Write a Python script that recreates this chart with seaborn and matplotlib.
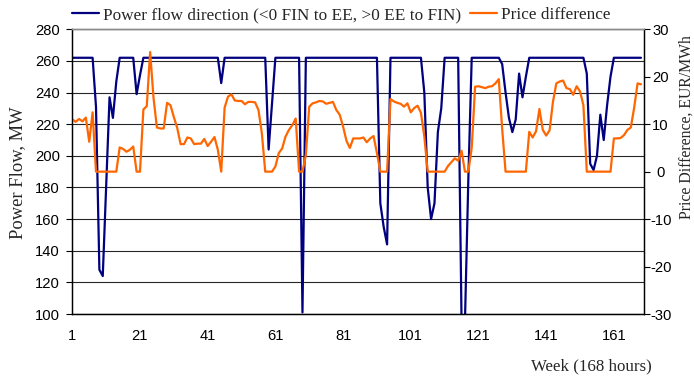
import matplotlib
matplotlib.use("Agg")
import matplotlib.pyplot as plt
import seaborn as sns
import pandas as pd

# ---------------- data ----------------
hours = list(range(1, 170))

power_flow = [
    262, 262, 262, 262, 262, 262, 262,
    231, 128, 124, 180, 237, 224, 247,
    262, 262, 262, 262, 262,
    239, 251,
    262, 262, 262, 262, 262, 262, 262, 262, 262, 262, 262, 262,
    262, 262, 262, 262, 262, 262, 262, 262, 262, 262, 262,
    246,
    262, 262, 262, 262, 262, 262, 262, 262, 262, 262, 262, 262, 262,
    204, 233,
    262, 262, 262, 262, 262, 262, 262, 262,
    101,
    262, 262, 262, 262, 262, 262, 262, 262, 262, 262, 262,
    262, 262, 262, 262, 262, 262, 262, 262, 262, 262, 262,
    170, 155, 144,
    262, 262, 262, 262, 262, 262, 262, 262, 262, 262,
    240, 180, 160, 170, 215, 230,
    262, 262, 262, 262, 262,
    95, 95, 185,
    262, 262, 262, 262, 262, 262, 262, 262, 262,
    258, 240, 224, 215, 223, 252, 237, 250,
    262, 262, 262, 262, 262, 262, 262, 262, 262,
    262, 262, 262, 262, 262, 262, 262, 262,
    252, 195, 191, 200, 226, 210, 232, 250,
    262, 262, 262, 262, 262, 262, 262, 262, 262,
]

price_diff = [
    11.0, 10.5, 11.1, 10.6, 11.4, 6.3, 12.5, 0,
    0, 0, 0, 0, 0, 0,
    5.1, 4.8, 4.2, 4.6, 5.3,
    0, 0,
    13.1, 13.8, 25.2, 15.5, 9.3, 9.1, 9.1, 14.5, 14.0, 11.5,
    9.2, 5.8, 5.8, 7.2, 7.0, 5.8, 5.9, 5.9, 6.9, 5.4, 6.3, 7.3, 4.6,
    0,
    13.5, 15.8, 16.3, 15.0, 14.9, 14.9, 14.2, 14.7, 14.7, 14.6, 13.0, 8.1,
    0, 0, 0,
    1.1, 3.9, 4.9, 7.4, 8.8, 9.8, 11.2,
    0, 0,
    3.5, 13.7, 14.4, 14.6, 14.9, 14.8, 14.3, 14.5, 14.7, 13.0, 12.0,
    9.5, 6.5, 5.0, 7.0, 7.0, 7.0, 7.2, 6.2, 7.0, 7.5, 3.9,
    0, 0, 0,
    15.3, 14.8, 14.5, 14.3, 13.7, 14.4, 12.5, 13.4, 13.9, 12.4, 7.4,
    0, 0, 0, 0, 0, 0,
    1.2, 2.0, 2.8, 2.3, 4.4,
    0, 0,
    5.0, 17.9, 18.0, 17.8, 17.6, 17.9, 18.0, 18.6, 19.5, 9.0,
    0, 0, 0, 0, 0, 0, 0,
    8.4, 7.2, 8.5, 13.2, 8.8, 7.6, 8.7, 14.7, 18.6, 19.0, 19.2, 17.6,
    17.4, 16.2, 18.0, 16.9, 14.0,
    0, 0, 0, 0, 0, 0, 0, 0,
    7.0, 7.0, 7.1, 7.7, 8.8, 9.3, 13.5, 18.6, 18.4,
]

x_ticks = [1, 21, 41, 61, 81, 101, 121, 141, 161]
flow_ticks = [100, 120, 140, 160, 180, 200, 220, 240, 260, 280]
price_ticks = [-30, -20, -10, 0, 10, 20, 30]

flow_label = "Power flow direction (<0 FIN to EE, >0 EE to FIN)"
price_label = "Price difference"

# ---------------- style ----------------
sns.set_style("white")
plt.rcParams["font.family"] = ["Liberation Sans", "DejaVu Sans"]
SERIF = ["Liberation Serif", "DejaVu Serif"]

df = pd.DataFrame({"hour": hours, "flow": power_flow, "price": price_diff})

fig = plt.figure(figsize=(6.94, 3.79), dpi=100)
ax = fig.add_axes([72.3 / 694, 1 - 314 / 379, (644 - 72.3) / 694, (314 - 29.3) / 379])
ax2 = ax.twinx()

sns.lineplot(data=df, x="hour", y="flow", ax=ax, color="#000080",
             linewidth=1.6, legend=False)
sns.lineplot(data=df, x="hour", y="price", ax=ax2, color="#FF6600",
             linewidth=1.6, legend=False)

ax.set_xlim(1, 169.9)
ax.set_ylim(100, 280)
ax2.set_ylim(-30, 30)
ax.set_xticks(x_ticks)
ax.set_xticklabels([str(t) for t in x_ticks])
ax.set_yticks(flow_ticks)
ax.set_yticklabels([str(t) for t in flow_ticks])
ax2.set_yticks(price_ticks)
ax2.set_yticklabels([str(t) for t in price_ticks])
for lab in ax2.get_yticklabels():
    lab.set_horizontalalignment("center")

ax.set_xlabel("")
ax.set_ylabel("")
ax2.set_ylabel("")

ax.yaxis.grid(True, color="#262626", linewidth=0.8)
ax.xaxis.grid(False)
ax.set_axisbelow(True)

for a in (ax, ax2):
    for side in ("left", "right", "bottom"):
        a.spines[side].set_color("black")
        a.spines[side].set_linewidth(0.9)
    a.spines["top"].set_color("#8c8c8c")
    a.spines["top"].set_linewidth(1.0)

ax.tick_params(axis="x", direction="inout", length=7, width=0.8,
               labelsize=10.6, pad=7, colors="black")
ax.tick_params(axis="y", direction="out", length=4, width=0.8,
               labelsize=10.6, pad=5, colors="black")
ax2.tick_params(axis="y", direction="out", length=4.5, width=0.8,
                labelsize=10.6, pad=7.5, colors="black")

# axis titles
fig.text(17.5 / 694, 1 - 172.7 / 379, "Power Flow, MW", rotation=90,
         family=SERIF, fontsize=13.3, ha="center", va="center")
fig.text(686.5 / 694, 1 - 127.5 / 379, "Price Difference, EUR/MWh",
         rotation=90, family=SERIF, fontsize=11.3, ha="center", va="center")
fig.text(591 / 694, 1 - 366 / 379, "Week (168 hours)", family=SERIF,
         fontsize=12.2, ha="center", va="center")

# legend
handles = [ax.get_lines()[0], ax2.get_lines()[0]]
fig.legend(handles, [flow_label, price_label], loc="center left",
           bbox_to_anchor=(72 / 694, 1 - 15 / 379), ncol=2, frameon=False,
           prop={"family": SERIF, "size": 12.4}, borderpad=0,
           borderaxespad=0, handlelength=1.56, handletextpad=0.25,
           columnspacing=0.5)

fig.savefig("out.png", dpi=100)
